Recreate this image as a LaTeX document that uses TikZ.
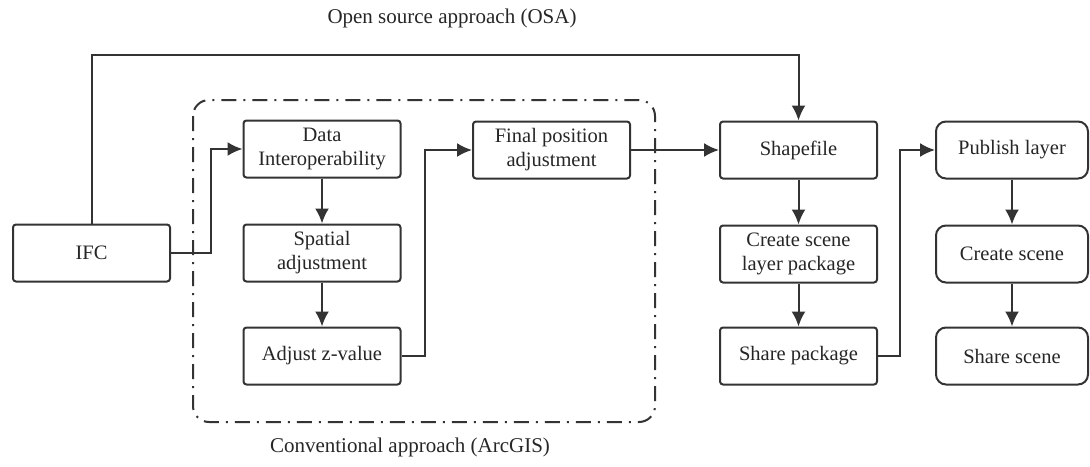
\documentclass[tikz,border=0pt]{standalone}
\usepackage{fontspec}
\setmainfont{Liberation Serif}
\usetikzlibrary{arrows.meta,positioning}

\tikzset{
  box/.style={draw=black!80, line width=2pt, rounded corners=3pt,
    minimum width=157pt, minimum height=57pt, align=center, inner sep=2pt,
    text=black!85, font=\fontsize{20.5}{24}\selectfont},
  pubbox/.style={box, minimum width=152pt, rounded corners=10pt},
  flow/.style={draw=black!80, line width=2pt, -{Latex[length=15pt,width=14pt]}},
  frame/.style={draw=black!80, line width=2pt, rounded corners=16pt,
    dash pattern=on 15pt off 7pt on 2pt off 7pt},
  caption/.style={text=black!85, font=\fontsize{21}{24}\selectfont},
}

\begin{document}
\begin{tikzpicture}[x=1pt,y=-1pt]
  \useasboundingbox (0,0) rectangle (1090,466);
  % ArcGIS frame
  \draw[frame] (193,100) rectangle (655,422);
  % boxes
  \node[box] (ifc) at (91.5,253) {IFC};
  \node[box] (dataint) at (322,149) {Data\\Interoperability};
  \node[box] (spatial) at (322,253) {Spatial\\adjustment};
  \node[box] (zvalue) at (322,356) {Adjust z-value};
  \node[box] (finalpos) at (551.5,150) {Final position\\adjustment};
  \node[box] (shape) at (798.5,150) {Shapefile};
  \node[box] (slpk) at (798.5,254) {Create scene\\layer package};
  \node[box] (sharepkg) at (798.5,356) {Share package};
  \node[pubbox] (publish) at (1012,150) {Publish layer};
  \node[pubbox] (mkscene) at (1012,254) {Create scene};
  \node[pubbox] (sharescn) at (1012,356) {Share scene};
  % labels
  \node[caption] (osa) at (452,18) {Open source approach (OSA)};
  \node[caption] (arcgis) at (410,447) {Conventional approach (ArcGIS)};
  % arrows
  \coordinate (top) at (0,55);
  \draw[flow] (ifc.north) -- (ifc.north |- top) -| (shape.north);
  \draw[flow] (ifc.east) -- ++(40,0) |- (dataint.west);
  \draw[flow] (dataint) -- (spatial);
  \draw[flow] (spatial) -- (zvalue);
  \draw[flow] (zvalue.east) -- ++(23,0) |- (finalpos.west);
  \draw[flow] (finalpos) -- (shape);
  \draw[flow] (shape) -- (slpk);
  \draw[flow] (slpk) -- (sharepkg);
  \draw[flow] (sharepkg.east) -- ++(22,0) |- (publish.west);
  \draw[flow] (publish) -- (mkscene);
  \draw[flow] (mkscene) -- (sharescn);
\end{tikzpicture}
\end{document}
